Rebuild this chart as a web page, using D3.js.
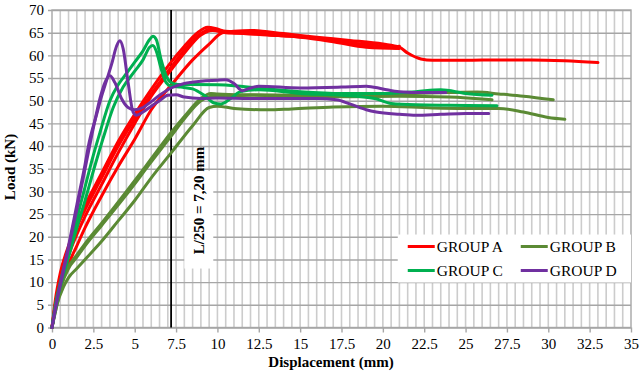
<!DOCTYPE html>
<html>
<head>
<meta charset="utf-8">
<script src="https://cdn.jsdelivr.net/npm/d3@7/dist/d3.min.js"></script>
<style>
body { margin: 0; background: #fff; }
</style>
</head>
<body>
<div id="chart"></div>
<script>
// tick labels
var xTickLabels = [0, 2.5, 5, 7.5, 10, 12.5, 15, 17.5, 20, 22.5, 25, 27.5, 30, 32.5, 35];
var yTickLabels = [0, 5, 10, 15, 20, 25, 30, 35, 40, 45, 50, 55, 60, 65, 70];
var groups = ["GROUP A", "GROUP B", "GROUP C", "GROUP D"];
var limitX = 7.2;
var limitLabel = "L/250 = 7,20 mm";

// GROUP A (red) - [displacement, load]
var groupA1 = [[0,0],[0.2,6],[0.5,12],[1,18],[1.5,23],[2,27],[3,34],[4,41],[5,47],[6,52.5],[7.2,58.5],[8,62],[8.8,65],[9.4,66.2],[10,65.8],[10.5,65.3],[11.5,65.2],[13,64.8],[15,64.2],[17,63.3],[19,62.3],[20.5,61.8],[21,62]];
var groupA2 = [[0,0],[0.2,5],[0.5,11],[1,17],[1.5,22],[2,26],[3,33],[4,40],[5,46],[6,51.5],[7.2,57.4],[8,61.2],[9,64.8],[9.6,65.8],[10.2,65.3],[11,65],[13,64.5],[15,64],[17,63],[19,61.8],[21,61.5]];
var groupA3 = [[0,0],[0.3,6],[0.6,10],[1,14],[1.5,18],[2,22],[3,29],[4,35.5],[5,41.5],[6,48],[7.2,53.4],[8.5,59],[9.5,62.5],[10.3,65],[11,65.3],[12,65.5],[14,64.8],[16,64],[18,63.3],[20,62.5],[21,61.8],[21.5,60.5],[22.3,59.2],[23,58.9],[25,58.9],[27,59],[29,59],[31,58.8],[33,58.4]];
var groupA4 = [[0,0],[0.3,7],[0.6,12],[1,16],[1.5,20.5],[2,24.5],[3,31.5],[4,38.5],[5,45],[6,51],[7.2,56.8],[8,60.5],[9,64.5],[9.7,65.5],[10.5,65],[12,64.8],[14,64.3],[16,63.8],[18,62.8],[20,62],[20.8,61.6]];

// GROUP B (olive)
var groupB1 = [[0,0],[0.3,6],[0.6,10],[1,13.5],[1.5,16],[2,18.5],[3,23],[4.5,30],[6,37.2],[7.2,43],[8,46.5],[9,50.5],[9.6,51.6],[10,51.5],[12,51.3],[15,51.2],[18,51.3],[21,51.5],[24,51.8],[25.7,51.9],[27,51.5],[28.5,51],[30.3,50.2]];
var groupB2 = [[0,0],[0.3,5],[0.6,9.5],[1,13],[1.5,15.5],[2,18],[3,22.5],[4.5,29.3],[6,36.5],[7.2,42.2],[8,46],[9,50],[9.7,51],[10.5,51],[12,51.2],[15,51],[18,50.9],[21,51],[24,50.8],[26.6,50.2]];
var groupB3 = [[0,0],[0.3,5],[0.7,9],[1,11],[1.5,13],[2,15],[3,19],[4,23.5],[5,28],[6,33],[7.2,38.5],[8.5,44.5],[9.5,48.5],[10,48.8],[11,48.3],[13,48],[14.5,48.2],[17,48.6],[20,48.8],[23,48.4],[25,48.3],[27,48.3],[28.5,47.5],[30,46.3],[31,45.9]];

// GROUP C (green)
var groupC1 = [[0,0],[0.2,5],[0.5,10],[1,17],[1.5,24],[2,31],[2.5,38],[2.9,43],[3.5,50],[4,53.5],[4.5,56],[5,58.5],[5.5,61],[5.9,63.5],[6.1,64.2],[6.3,63.5],[6.6,59],[6.9,55.5],[7.2,54],[7.6,53.6],[8.5,53.6],[10,53.5],[11,53.3],[12.5,52.8],[15,52],[17.5,51.6],[20,51.6],[22,52],[23.5,52.4],[25,51.6],[26.6,51.2]];
var groupC2 = [[0,0],[0.2,4],[0.5,9],[1,15.5],[1.5,22],[2,28],[2.5,34.5],[3.2,43],[3.7,48.5],[4.3,53],[5,56.5],[5.5,59],[5.9,61.8],[6.1,62.2],[6.3,61],[6.6,57],[6.9,54],[7.2,53.2],[7.8,53],[8.5,52.6],[9.2,51.2],[9.8,49.5],[10.2,49.3],[10.8,50.5],[11.4,52],[12.5,52.4],[15,51.6],[17.5,51.2],[19.5,50.5],[20.5,49.4],[22,49.1],[24,49],[26.9,48.9]];

// GROUP D (purple)
var groupD1 = [[0,0],[0.3,6],[0.7,13],[1,18],[1.5,27],[2,36],[2.2,40],[2.7,47],[3,51],[3.3,54.5],[3.6,58],[3.9,62],[4.1,63.2],[4.3,61.5],[4.6,54],[4.9,47.5],[5.1,46.8],[5.5,47.5],[6,48.8],[6.5,50],[7,51.2],[7.5,51.3],[8,50.8],[9,50.5],[10,50.6],[12,50.5],[14,50.5],[16,50.5],[17.2,50.2],[18,49.3],[19,48],[19.6,47.5],[21,47],[22,46.8],[23.5,47],[25,47.2],[26.4,47.2]];
var groupD2 = [[0,0],[0.3,6],[0.7,12.5],[1,17.5],[1.5,26],[2,35],[2.5,44],[2.9,50.5],[3.2,54],[3.5,55.5],[3.8,54],[4.2,50.5],[4.6,48.5],[5,48],[5.5,48.5],[6,49.8],[6.5,51.2],[7.2,52.8],[8,53.8],[9,54.3],[10,54.5],[10.5,54.6],[11,53.8],[11.5,52.2],[12,52.8],[12.5,53.2],[15,52.8],[17.5,53],[19,53.2],[20,52.6],[21,52],[22.5,51.8],[23.8,51.8]];

var seriesList = [
    { group: 0, values: groupA1 }, { group: 0, values: groupA2 }, { group: 0, values: groupA3 }, { group: 0, values: groupA4 },
    { group: 1, values: groupB1 }, { group: 1, values: groupB2 }, { group: 1, values: groupB3 },
    { group: 2, values: groupC1 }, { group: 2, values: groupC2 },
    { group: 3, values: groupD1 }, { group: 3, values: groupD2 }
];

var colors = ["#ff0000", "#5b8a34", "#00b050", "#7030a0"];
var serif = "'Liberation Serif', 'Times New Roman', serif";

var width = 641,
    height = 372,
    margin = { left: 52, right: 10, top: 10, bottom: 44.5 };

function translate(xDelta, yDelta){
    return "translate(" + xDelta + "," + yDelta + ")";
}

var ww = width - margin.left - margin.right,
    hh = height - margin.top - margin.bottom;

var xScale = d3.scaleLinear().domain([0, 35]).range([0, ww]);
var yScale = d3.scaleLinear().domain([0, 70]).range([hh, 0]);

var svg = d3.select("#chart")
    .append("svg")
    .attr("width", width)
    .attr("height", height)
    .attr("font-family", serif);

var g = svg.append("g").attr("transform", translate(margin.left, margin.top));

// vertical minor grid every 0.5
g.append("g")
    .selectAll("line")
    .data(d3.range(0.5, 35, 0.5))
    .enter()
    .append("line")
    .attr("x1", function(d){ return xScale(d); })
    .attr("x2", function(d){ return xScale(d); })
    .attr("y1", 0)
    .attr("y2", hh)
    .attr("stroke", "#cccccc")
    .attr("stroke-width", 1.6);

// horizontal grid from y axis ticks
var yAxis = d3.axisLeft(yScale).tickValues(yTickLabels).tickFormat(function(d){ return String(d); })
    .tickSize(-ww).tickPadding(8);
g.append("g")
    .attr("class", "y-axis")
    .call(yAxis)
    .call(function(sel){
        sel.select(".domain").remove();
        sel.attr("font-family", serif).attr("font-size", 15);
        sel.selectAll("line").attr("stroke", "#a6a6a6").attr("stroke-width", 1.4).attr("x1", -4);
        sel.selectAll("text").attr("fill", "#000");
    });

var xAxis = d3.axisBottom(xScale).tickValues(xTickLabels).tickFormat(function(d){ return String(d); })
    .tickSize(5).tickPadding(6);
g.append("g")
    .attr("class", "x-axis")
    .attr("transform", translate(0, hh))
    .call(xAxis)
    .call(function(sel){
        sel.select(".domain").remove();
        sel.attr("font-family", serif).attr("font-size", 15);
        sel.selectAll("line").attr("stroke", "#a6a6a6").attr("stroke-width", 1.4);
        sel.selectAll("text").attr("fill", "#000");
    });

// plot frame
g.append("rect")
    .attr("x", 0).attr("y", 0)
    .attr("width", ww).attr("height", hh)
    .attr("fill", "none")
    .attr("stroke", "#a6a6a6")
    .attr("stroke-width", 1.4);

// limit line
g.append("line")
    .attr("x1", xScale(limitX)).attr("x2", xScale(limitX))
    .attr("y1", 0).attr("y2", hh)
    .attr("stroke", "#000")
    .attr("stroke-width", 1.8);

// label box
g.append("rect")
    .attr("x", xScale(8)).attr("y", yScale(34.5))
    .attr("width", xScale(9.75) - xScale(8))
    .attr("height", yScale(13) - yScale(34.5))
    .attr("fill", "#fff");

g.append("text")
    .attr("transform", translate(xScale(8.9), yScale(28)) + " rotate(-90)")
    .attr("text-anchor", "middle")
    .attr("dy", "0.35em")
    .attr("font-size", 15)
    .attr("font-weight", "bold")
    .text(limitLabel);

// curves
var line = d3.line()
    .x(function(d){ return xScale(d[0]); })
    .y(function(d){ return yScale(d[1]); })
    .curve(d3.curveMonotoneX);

g.append("g")
    .selectAll("path")
    .data(seriesList)
    .enter()
    .append("path")
    .attr("d", function(d){ return line(d.values); })
    .attr("fill", "none")
    .attr("stroke", function(d){ return colors[d.group]; })
    .attr("stroke-width", 3)
    .attr("stroke-linejoin", "round")
    .attr("stroke-linecap", "round");

// legend
var legend = g.append("g").attr("transform", translate(xScale(20.9), yScale(20.5)));
legend.append("rect")
    .attr("x", 0).attr("y", 0)
    .attr("width", ww - xScale(20.9))
    .attr("height", 48)
    .attr("fill", "#fff");

var items = legend.selectAll(".item")
    .data(groups)
    .enter()
    .append("g")
    .attr("class", "item")
    .attr("transform", function(d, i){
        return translate(10 + (i % 2) * 113, 12 + Math.floor(i / 2) * 24);
    });

items.append("line")
    .attr("x1", 0).attr("x2", 27)
    .attr("y1", 0).attr("y2", 0)
    .attr("stroke", function(d, i){ return colors[i]; })
    .attr("stroke-width", 3);

items.append("text")
    .attr("x", 29)
    .attr("dy", "0.35em")
    .attr("font-size", 15.5)
    .text(function(d){ return d; });

// axis titles
svg.append("text")
    .attr("x", 331)
    .attr("y", 362)
    .attr("dy", "0.35em")
    .attr("text-anchor", "middle")
    .attr("font-size", 15)
    .attr("font-weight", "bold")
    .text("Displacement (mm)");

svg.append("text")
    .attr("transform", translate(10, 167) + " rotate(-90)")
    .attr("dy", "0.35em")
    .attr("text-anchor", "middle")
    .attr("font-size", 15)
    .attr("font-weight", "bold")
    .text("Load (kN)");
</script>
</body>
</html>
